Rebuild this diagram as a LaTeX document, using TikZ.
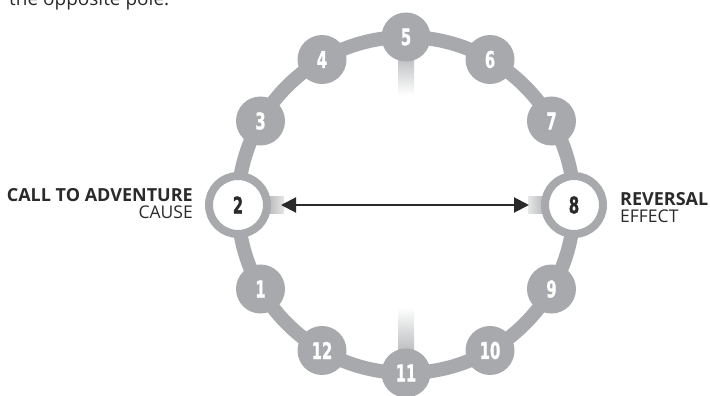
\documentclass[tikz,border=0pt]{standalone}
\usepackage{fontspec}
\usepackage{graphicx}
\setmainfont{Open Sans}
\newfontfamily\digitfont{DejaVu Sans Condensed Bold}[FakeBold=1.2]
\usetikzlibrary{arrows.meta,calc}
\definecolor{ringgray}{HTML}{A7A9AC}
\definecolor{inkdark}{HTML}{2B2A2B}
\tikzset{
  ringline/.style={draw=ringgray, line width=14pt},
  smallstop/.style={circle, fill=ringgray, minimum size=49pt, inner sep=0pt,
    text=white, font=\digitfont\fontsize{23}{23}\selectfont},
  bigstop/.style={circle, fill=white, draw=ringgray, line width=8pt,
    minimum size=58pt, inner sep=0pt,
    text=inkdark, font=\digitfont\fontsize{23}{23}\selectfont},
  poleline/.style={draw=inkdark, line width=2pt,
    {Triangle[length=15pt,width=15pt]}-{Triangle[length=15pt,width=15pt]}},
  headlabel/.style={font=\bfseries\fontsize{18}{18}\selectfont, text=inkdark, inner sep=0pt},
  sublabel/.style={font=\fontsize{17.5}{17.5}\selectfont, text=inkdark, inner sep=0pt},
}
\newcommand{\narrow}[1]{\scalebox{0.72}[1]{#1}}
\begin{document}
\begin{tikzpicture}[x=1pt, y=-1pt]
  \useasboundingbox[fill=white] (0,0) rectangle (710,396);
  \coordinate (c) at (406,205);

  % fading stubs pointing to the centre
  \shade[left color=ringgray, right color=gray!20] (262,196.5) rectangle (284,213.5);
  \shade[right color=ringgray, left color=gray!20] (528,196.5) rectangle (550,213.5);
  \shade[top color=ringgray, bottom color=white] (398,45) rectangle (414,95);
  \shade[bottom color=ringgray, top color=white] (398,307) rectangle (414,365);

  % the ring
  \draw[ringline] (c) circle[radius=168];

  % stops around the ring
  \node[smallstop] (n5)  at ($(c)+(270:168)$) {\narrow{5}};
  \node[smallstop] (n6)  at ($(c)+(300:168)$) {\narrow{6}};
  \node[smallstop] (n7)  at ($(c)+(330:168)$) {\narrow{7}};
  \node[bigstop]   (n8)  at ($(c)+(0:168)$)   {\narrow{8}};
  \node[smallstop] (n9)  at ($(c)+(30:168)$)  {\narrow{9}};
  \node[smallstop] (n10) at ($(c)+(60:168)$)  {\narrow{10}};
  \node[smallstop] (n11) at ($(c)+(90:168)$)  {\narrow{11}};
  \node[smallstop] (n12) at ($(c)+(120:168)$) {\narrow{12}};
  \node[smallstop] (n1)  at ($(c)+(150:168)$) {\narrow{1}};
  \node[bigstop]   (n2)  at ($(c)+(180:168)$) {\narrow{2}};
  \node[smallstop] (n3)  at ($(c)+(210:168)$) {\narrow{3}};
  \node[smallstop] (n4)  at ($(c)+(240:168)$) {\narrow{4}};

  % cause and effect poles
  \draw[poleline] ([xshift=10pt]n2.east) -- ([xshift=-12pt]n8.west);

  % labels
  \node[headlabel, anchor=base east] (callto) at (193,201) {CALL TO ADVENTURE};
  \node[sublabel, anchor=base east] (cause) at (193,218) {CAUSE};
  \node[headlabel, anchor=base west] (reversal) at (620,205) {REVERSAL};
  \node[sublabel, anchor=base west] (effect) at (620,222) {EFFECT};

  % tail of the preceding text line
  \node[font=\fontsize{19}{19}\selectfont, text=inkdark, inner sep=0pt, anchor=base west] (tail) at (9,6) {the opposite pole.};
\end{tikzpicture}
\end{document}
